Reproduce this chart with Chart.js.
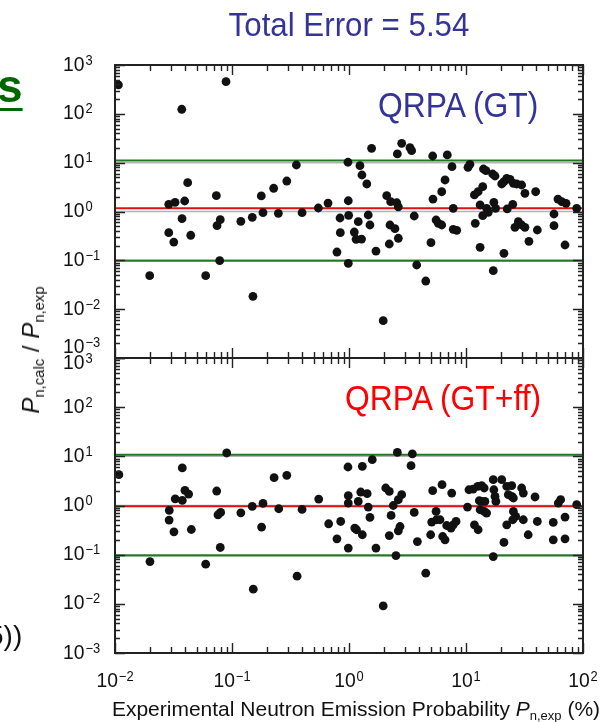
<!DOCTYPE html>
<html>
<head>
<meta charset="utf-8">
<script src="https://cdn.jsdelivr.net/npm/chart.js@4.4.1/dist/chart.umd.min.js"></script>
<style>
  html, body { margin: 0; padding: 0; background: #fff; }
  #wrap { position: relative; width: 608px; height: 722px; overflow: hidden;
          font-family: "Liberation Sans", Arial, Helvetica, sans-serif; }
  canvas { position: absolute; left: 0; top: 0; }
  .txt { position: absolute; white-space: nowrap; line-height: 1; }
  .txt sub { font-size: 0.62em; vertical-align: baseline; position: relative; top: 0.32em; }
  #title { left: 349px; top: 7px; font-size: 34px; color: #333399; transform: translateX(-50%) scaleX(0.92); }
  #lblGT { left: 378px; top: 87px; font-size: 35px; color: #333399; transform-origin: 0 0; transform: scaleX(0.91); }
  #lblFF { left: 345px; top: 380px; font-size: 35px; color: #ff0000; transform-origin: 0 0; transform: scaleX(0.91); }
  #ytitle { left: 31px; top: 350px; font-size: 24px; color: #111; transform: translate(-50%, -50%) rotate(-90deg); }
  #xtitle { left: 356px; top: 698px; font-size: 21px; color: #111; transform: translateX(-50%); }
  #fragS { left: -3px; top: 63px; font-size: 46px; font-weight: bold; color: #006600;
           text-decoration: underline; text-decoration-thickness: 3px; text-underline-offset: 6px; }
  #fragP { left: -12px; top: 622px; font-size: 28px; color: #111; }
</style>
</head>
<body>
<div id="wrap">
  <canvas id="gt" width="608" height="722"></canvas>
  <canvas id="ff" width="608" height="722"></canvas>
  <div class="txt" id="title">Total Error = 5.54</div>
  <div class="txt" id="lblGT">QRPA (GT)</div>
  <div class="txt" id="lblFF">QRPA (GT+ff)</div>
  <div class="txt" id="ytitle"><i>P</i><sub>n,calc</sub> / <i>P</i><sub>n,exp</sub></div>
  <div class="txt" id="xtitle">Experimental Neutron Emission Probability <i>P</i><sub>n,exp</sub> (%)</div>
  <div class="txt" id="fragS">s</div>
  <div class="txt" id="fragP">5))</div>
</div>
<script>
// experimental Pn (%) and calc/exp ratio, QRPA with Gamow-Teller only
const gtPnExp = [0.0107, 0.0889, 0.0372, 0.0418, 0.0288, 0.0326, 0.0394, 0.0374, 0.0288, 0.0318,
  0.0444, 0.0735, 0.0745, 0.0794, 0.0785, 0.0198, 0.0596, 0.119, 0.149, 0.178,
  0.184, 0.227, 0.249, 0.294, 0.355, 0.397, 0.547, 0.662, 0.838, 0.843,
  0.789, 0.151, 0.980, 0.986, 0.993, 0.986, 1.56, 1.24, 1.29, 1.42,
  1.20, 1.11, 1.15, 1.28, 1.46, 1.51, 1.70, 1.96, 2.10, 2.27,
  2.64, 2.56, 2.24, 2.47, 2.64, 2.21, 2.59, 2.82, 3.32, 3.43,
  3.61, 3.79, 4.53, 5.02, 5.22, 5.19, 6.20, 6.62, 6.92, 7.59,
  5.55, 5.80, 6.20, 7.78, 8.33, 7.78, 10.4, 10.8, 12.0, 13.2,
  11.8, 12.7, 13.9, 14.1, 14.8, 16.9, 17.7, 13.2, 13.9, 15.0,
  15.5, 17.3, 17.9, 17.1, 21.1, 20.2, 21.1, 22.3, 23.8, 25.4,
  27.1, 29.9, 31.9, 22.5, 25.1, 26.2, 28.0, 29.9, 31.9, 34.5,
  39.4, 40.7, 56.5, 56.5, 61.1, 65.8, 71.6, 70.2, 88.3];
const gtRatio = [390, 455, 124, 3.89, 1.40, 1.54, 1.64, 0.712, 0.368, 0.237,
  0.326, 2.11, 0.512, 0.679, 0.0982, 0.0484, 0.0484, 0.630, 0.761, 2.08,
  0.945, 2.99, 0.919, 4.21, 8.96, 0.945, 1.18, 1.49, 0.736, 0.368,
  0.148, 0.0183, 10.2, 1.66, 0.836, 0.0869, 19.7, 8.67, 5.59, 3.66,
  0.618, 0.380, 0.270, 0.273, 0.848, 0.529, 0.155, 0.0058, 2.11, 1.59,
  1.25, 1.51, 0.529, 0.444, 0.283, 0.216, 15.1, 24.9, 20.3, 17.6,
  0.809, 0.0802, 0.0377, 0.230, 1.80, 13.7, 2.54, 4.42, 14.4, 8.27,
  0.670, 0.573, 0.529, 0.432, 0.412, 1.16, 8.04, 9.26, 0.573, 0.185,
  2.18, 2.54, 3.22, 7.42, 6.85, 5.86, 5.33, 1.36, 0.820, 1.16,
  0.963, 1.54, 1.16, 0.0613, 0.139, 3.66, 4.07, 4.79, 4.56, 3.78,
  3.66, 3.49, 2.36, 1.13, 1.40, 0.475, 0.618, 0.529, 0.475, 0.245,
  2.54, 0.418, 0.889, 0.512, 1.80, 1.59, 1.47, 0.206, 1.16];

// same nuclei, QRPA with Gamow-Teller + first-forbidden
const ffPnExp = [0.0108, 0.0901, 0.0376, 0.0396, 0.0426, 0.0327, 0.0376, 0.0291, 0.0290, 0.0319,
  0.0449, 0.0740, 0.0759, 0.0800, 0.0794, 0.0199, 0.0596, 0.119, 0.149, 0.184,
  0.179, 0.152, 0.229, 0.294, 0.251, 0.360, 0.397, 0.551, 0.670, 0.789,
  0.849, 0.980, 0.986, 0.986, 0.986, 1.30, 1.58, 1.20, 1.26, 1.43,
  1.46, 1.51, 1.12, 1.16, 1.30, 1.70, 1.96, 2.06, 2.21, 2.82,
  2.64, 2.39, 2.29, 2.73, 2.64, 2.21, 2.52, 2.59, 3.48, 3.39,
  3.61, 3.84, 4.53, 4.99, 5.19, 6.24, 5.55, 5.09, 5.60, 6.00,
  6.32, 6.62, 6.84, 7.55, 7.45, 7.78, 8.22, 10.3, 10.6, 11.5,
  12.6, 13.6, 14.3, 13.0, 13.6, 14.5, 13.2, 14.3, 15.0, 11.8,
  12.7, 17.1, 20.2, 17.3, 17.7, 18.0, 22.3, 24.6, 23.0, 24.6,
  25.4, 17.1, 21.1, 22.3, 25.4, 26.6, 25.1, 30.9, 29.9, 30.9,
  38.9, 34.0, 40.7, 55.7, 55.7, 61.5, 64.4, 70.2, 70.2, 88.3];
const ffRatio = [4.23, 11.7, 5.80, 2.03, 1.71, 1.37, 1.27, 0.793, 0.505, 0.292,
  0.325, 1.97, 0.648, 0.722, 0.140, 0.0724, 0.0641, 0.711, 0.956, 1.10,
  0.364, 0.0199, 3.68, 4.10, 0.859, 0.0365, 0.831, 1.35, 0.425, 0.210,
  0.473, 6.07, 1.58, 1.12, 0.136, 6.25, 8.55, 1.21, 1.88, 1.74,
  0.930, 0.571, 0.347, 0.321, 0.254, 0.136, 0.00906, 2.27, 1.93, 1.66,
  1.31, 1.00, 0.627, 0.374, 0.306, 0.245, 0.0960, 12.0, 11.2, 6.45,
  0.722, 0.185, 0.0420, 0.254, 2.00, 2.65, 0.756, 0.460, 0.513, 0.513,
  0.234, 0.200, 0.392, 1.79, 0.347, 0.405, 0.473, 0.930, 2.09, 2.16,
  2.44, 2.53, 2.27, 1.25, 1.21, 1.21, 0.819, 0.756, 0.702, 0.405,
  0.321, 3.35, 3.35, 2.09, 1.53, 1.21, 2.44, 2.53, 1.66, 1.53,
  1.42, 0.0916, 0.177, 0.405, 0.756, 0.598, 0.513, 0.513, 2.27, 1.79,
  1.49, 0.254, 0.473, 0.452, 0.200, 1.12, 1.31, 0.582, 0.210, 1.04];

// factor-of-ten band (green) and unity (red) as drawn over each panel
const gtBand = [11.1, 0.098];
const gtUnity = 1.16;
const ffBand = [10.8, 0.096];
const ffUnity = 0.96;
// the plot's own reference lines
const refRatios = [10, 1, 0.1];

// decade labels
const xDecades = [-2, -1, 0, 1, 2];
const yDecades = [-3, -2, -1, 0, 1, 2, 3];

const X_MIN = 0.01, X_MAX = 100, Y_MIN = 1e-3, Y_MAX = 1e3;
const FONT = '"Liberation Sans", Arial, Helvetica, sans-serif';
const SQUEEZE = 0.92;

// "10" with a raised exponent, slightly condensed like the figure's lettering
function drawPower(ctx, exp, x, y, align) {
  const sup = exp < 0 ? '\u2212' + (-exp) : String(exp);
  ctx.font = '21px ' + FONT;
  const wb = ctx.measureText('10').width;
  ctx.font = '14px ' + FONT;
  const ws = ctx.measureText(sup).width;
  const w = (wb + 1 + ws) * SQUEEZE;
  const left = align === 'center' ? x - w / 2 : x;
  ctx.save();
  ctx.translate(left, y);
  ctx.scale(SQUEEZE, 1);
  ctx.font = '21px ' + FONT;
  ctx.fillText('10', 0, 0);
  ctx.font = '14px ' + FONT;
  ctx.fillText(sup, wb + 1, -6);
  ctx.restore();
}

// major (1) and minor (2..9) positions across whole decades
function logStops(lo, hi) {
  const out = [];
  for (let e = lo; e <= hi; e++) {
    for (let m = 1; m <= 9; m++) {
      if (e === hi && m > 1) break;
      out.push({ v: m * Math.pow(10, e), major: m === 1 });
    }
  }
  return out;
}

// box frame with inward ticks on all four sides, plus decade labels
const frameTicks = {
  id: 'frameTicks',
  afterDatasetsDraw(chart, args, opts) {
    const { ctx, chartArea: a } = chart;
    const xs = chart.scales.x, ys = chart.scales.y;
    ctx.save();
    ctx.strokeStyle = '#222';
    ctx.lineWidth = 1.4;
    ctx.beginPath();
    logStops(-2, 2).forEach(t => {
      const px = Math.round(xs.getPixelForValue(t.v)) + 0.5;
      const len = t.major ? 10 : 6;
      ctx.moveTo(px, a.top); ctx.lineTo(px, a.top + len);
      ctx.moveTo(px, a.bottom); ctx.lineTo(px, a.bottom - len);
    });
    logStops(-3, 3).forEach(t => {
      const py = Math.round(ys.getPixelForValue(t.v)) + 0.5;
      const len = t.major ? 10 : 5;
      ctx.moveTo(a.left, py); ctx.lineTo(a.left + len, py);
      ctx.moveTo(a.right, py); ctx.lineTo(a.right - len, py);
    });
    ctx.stroke();
    ctx.lineWidth = 2;
    ctx.strokeRect(a.left, a.top, a.right - a.left, a.bottom - a.top);

    ctx.fillStyle = '#111';
    ctx.textAlign = 'left';
    ctx.textBaseline = 'alphabetic';
    const shift = opts.shift || {};
    yDecades.forEach(e => {
      const py = ys.getPixelForValue(Math.pow(10, e)) + 5.5 + (shift[String(e)] || 0);
      drawPower(ctx, e, 63, py, 'left');
    });
    if (opts.xLabels) {
      xDecades.forEach(e => drawPower(ctx, e, xs.getPixelForValue(Math.pow(10, e)), 687, 'center'));
    }
    ctx.restore();
  }
};

function hline(v) {
  return [{ x: X_MIN, y: v }, { x: X_MAX, y: v }];
}

function makePanel(id, pnExp, ratio, band, unity, padding, frameOpts) {
  const pts = pnExp.map((v, i) => ({ x: v, y: ratio[i] }));
  const datasets = [
    { data: pts, pointRadius: 4.4, pointBackgroundColor: '#111', pointBorderWidth: 0, clip: false }
  ];
  band.forEach(v => datasets.push({ type: 'line', data: hline(v), borderColor: '#1f7a1f', borderWidth: 2, pointRadius: 0 }));
  datasets.push({ type: 'line', data: hline(unity), borderColor: '#e01010', borderWidth: 2, pointRadius: 0 });
  refRatios.forEach(v => datasets.push({ type: 'line', data: hline(v), borderColor: '#b4b4b4', borderWidth: 1.5, pointRadius: 0 }));

  return new Chart(document.getElementById(id), {
    type: 'scatter',
    data: { datasets },
    options: {
      responsive: false,
      animation: false,
      events: [],
      layout: { padding },
      plugins: { legend: { display: false }, tooltip: { enabled: false }, frameTicks: frameOpts },
      scales: {
        x: { type: 'logarithmic', min: X_MIN, max: X_MAX, display: false },
        y: { type: 'logarithmic', min: Y_MIN, max: Y_MAX, display: false }
      }
    },
    plugins: [frameTicks]
  });
}

makePanel('gt', gtPnExp, gtRatio, gtBand, gtUnity,
  { left: 115, right: 25, top: 65, bottom: 364 }, { xLabels: false, shift: { '-3': -11 } });
makePanel('ff', ffPnExp, ffRatio, ffBand, ffUnity,
  { left: 115, right: 25, top: 358, bottom: 69 }, { xLabels: true, shift: { '3': 5 } });
</script>
</body>
</html>
